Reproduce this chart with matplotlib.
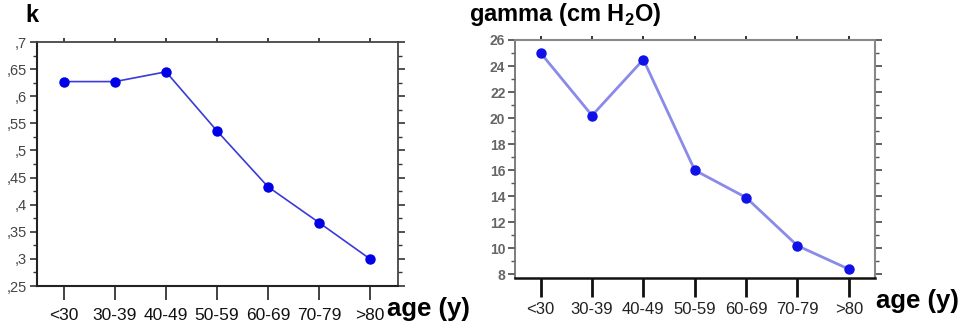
import matplotlib
matplotlib.use("Agg")
import matplotlib.pyplot as plt
from matplotlib.ticker import MultipleLocator, FixedLocator, FuncFormatter

plt.rcParams['font.family'] = ['Liberation Sans', 'DejaVu Sans']
plt.rcParams['mathtext.fontset'] = 'custom'
plt.rcParams['mathtext.rm'] = 'Liberation Sans'
plt.rcParams['mathtext.bf'] = 'Liberation Sans:bold'

age_groups = ["<30", "30-39", "40-49", "50-59", "60-69", "70-79", ">80"]
k_values = [0.627, 0.627, 0.645, 0.536, 0.433, 0.367, 0.300]
gamma_values = [25.0, 20.2, 24.5, 16.0, 13.9, 10.2, 8.4]
k_ticks = [0.25, 0.3, 0.35, 0.4, 0.45, 0.5, 0.55, 0.6, 0.65, 0.7]
gamma_ticks = [8, 10, 12, 14, 16, 18, 20, 22, 24, 26]

fig = plt.figure(figsize=(9.6, 3.26), dpi=100)
W, H = 960, 326

def px_axes(x0, x1, y0, y1):
    return fig.add_axes([x0 / W, 1 - y1 / H, (x1 - x0) / W, (y1 - y0) / H])

xs = list(range(len(age_groups)))

# ---------- left: k ----------
ax1 = px_axes(37, 398, 42, 286)
ax1.plot(xs, k_values, color='#3a3ad8', lw=1.2, marker='o', ms=6.5,
         mfc='#0000e8', mec='#0000e8', zorder=3)
ax1.set_xlim(-0.53, 6.55)
ax1.set_ylim(0.25, 0.7)
ax1.yaxis.set_major_locator(FixedLocator(k_ticks))
ax1.yaxis.set_minor_locator(MultipleLocator(0.025))
ax1.yaxis.set_major_formatter(FuncFormatter(lambda v, p: ("%g" % round(v, 2)).replace("0.", ",")))
ax1.set_xticks(xs)
ax1.set_xticklabels(age_groups, fontsize=12.5, color='#111111')
ax1.tick_params(axis='x', which='major', direction='out', length=10, width=1.2,
                pad=6, top=True, labeltop=False, color='#222222')
ax1.tick_params(axis='y', which='major', direction='out', length=5, width=1.2,
                right=True, labelsize=10.5, labelcolor='#444444', pad=2, color='#333333')
ax1.tick_params(axis='y', which='minor', direction='out', length=3, width=1.0,
                right=True, color='#333333')
for s in ['left', 'bottom']:
    ax1.spines[s].set_color('#222222')
    ax1.spines[s].set_linewidth(1.5)
for s in ['top', 'right']:
    ax1.spines[s].set_color('#444444')
    ax1.spines[s].set_linewidth(1.3)
for t in ax1.xaxis.get_major_ticks():
    t.tick2line.set_markersize(3)
fig.text(25 / W, 1 - 15 / H, "k", fontsize=17, fontweight='bold', va='center', ha='left')
fig.text(387 / W, 1 - 309 / H, "age (y)", fontsize=18.5, fontweight='bold', va='center', ha='left')

# ---------- right: gamma ----------
ax2 = px_axes(515, 875, 40, 278)
ax2.plot(xs, gamma_values, color='#8a8ae8', lw=2.0, marker='o', ms=6.5,
         mfc='#1010e8', mec='#1010e8', zorder=3)
ax2.set_xlim(-0.5, 6.51)
ax2.set_ylim(7.72, 26)
ax2.yaxis.set_major_locator(FixedLocator(gamma_ticks))
ax2.yaxis.set_minor_locator(MultipleLocator(1))
ax2.set_xticks(xs)
ax2.set_xticklabels(age_groups, fontsize=12, color='#222222')
ax2.tick_params(axis='x', which='major', direction='out', length=14, width=2.0,
                pad=3, top=True, labeltop=False, color='#111111')
ax2.tick_params(axis='y', which='major', direction='out', length=5, width=1.3,
                right=True, labelsize=10, labelcolor='#666666', pad=2, color='#555555')
ax2.tick_params(axis='y', which='minor', direction='out', length=3, width=1.0,
                right=True, color='#555555')
for lbl in ax2.get_yticklabels():
    lbl.set_fontweight('bold')
ax2.spines['bottom'].set_color('#111111')
ax2.spines['bottom'].set_linewidth(1.8)
ax2.spines['left'].set_color('#666666')
ax2.spines['left'].set_linewidth(1.2)
ax2.spines['top'].set_color('#888888')
ax2.spines['top'].set_linewidth(1.5)
ax2.spines['right'].set_color('#888888')
ax2.spines['right'].set_linewidth(1.5)
for t in ax2.xaxis.get_major_ticks():
    t.tick2line.set_markersize(3)
    t.tick2line.set_markeredgewidth(1.2)
    t.tick2line.set_color('#555555')
fig.text(469 / W, 1 - 15 / H, r"gamma (cm H$_\mathbf{2}$O)", fontsize=17, fontweight='bold',
         va='center', ha='left')
fig.text(876 / W, 1 - 301 / H, "age (y)", fontsize=18.5, fontweight='bold', va='center', ha='left')

fig.savefig("out.png", dpi=100)
